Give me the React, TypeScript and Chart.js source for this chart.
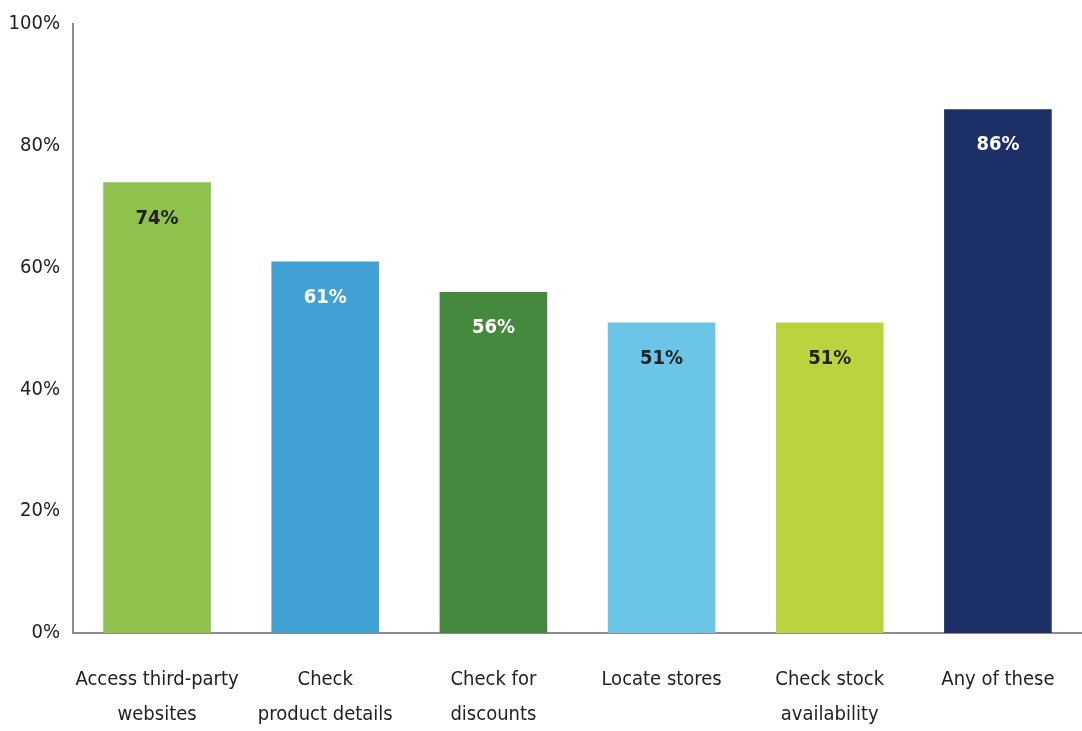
import React, { useEffect, useRef } from "react";
import { Chart, registerables } from "chart.js";

Chart.register(...registerables);

const categories: string[][] = [
  ["Access third-party", "websites"],
  ["Check", "product details"],
  ["Check for", "discounts"],
  ["Locate stores"],
  ["Check stock", "availability"],
  ["Any of these"],
];
const values: number[] = [74, 61, 56, 51, 51, 86];
const barColors: string[] = ["#8fc14c", "#42a1d4", "#45893e", "#6bc5e7", "#bad33f", "#1c2f66"];
const labelColors: string[] = ["#222222", "#ffffff", "#ffffff", "#222222", "#222222", "#ffffff"];
const yTicks: number[] = [0, 20, 40, 60, 80, 100];

const FONT = "'Liberation Sans Narrow', 'DejaVu Sans Condensed', sans-serif";

const valueLabels = {
  id: "valueLabels",
  afterDatasetsDraw(chart: any) {
    const ctx = chart.ctx;
    const meta = chart.getDatasetMeta(0);
    ctx.save();
    ctx.font = `bold 20px ${FONT}`;
    ctx.textAlign = "center";
    ctx.textBaseline = "middle";
    meta.data.forEach((bar: any, i: number) => {
      ctx.fillStyle = labelColors[i];
      ctx.fillText(values[i] + "%", bar.x, bar.y + 36);
    });
    ctx.restore();
  },
};

export default function App() {
  const ref = useRef<HTMLCanvasElement>(null);
  useEffect(() => {
    document.body.style.margin = "0";
    const chart = new Chart(ref.current!, {
      type: "bar",
      data: {
        labels: categories,
        datasets: [
          {
            data: values,
            backgroundColor: barColors,
            barPercentage: 0.64,
            categoryPercentage: 1,
          },
        ],
      },
      options: {
        animation: false,
        responsive: false,
        maintainAspectRatio: false,
        layout: { padding: { top: 24, right: 0, left: 0, bottom: 0 } },
        plugins: { legend: { display: false }, tooltip: { enabled: false } },
        scales: {
          x: {
            grid: { display: false },
            border: { display: true, color: "#8c8c8c", width: 2 },
            ticks: {
              color: "#222222",
              font: { family: FONT, size: 20, lineHeight: 1.75 },
              padding: 21,
              maxRotation: 0,
              autoSkip: false,
            },
            afterFit(scale: any) {
              scale.height = 98;
            },
          },
          y: {
            min: 0,
            max: 100,
            afterBuildTicks(scale: any) {
              scale.ticks = yTicks.map((v) => ({ value: v }));
            },
            grid: { display: false },
            border: { display: true, color: "#8c8c8c", width: 2 },
            ticks: {
              color: "#222222",
              font: { family: FONT, size: 20 },
              padding: 5,
              callback: (v: any) => v + "%",
            },
            afterFit(scale: any) {
              scale.width = 73;
            },
          },
        },
      },
      plugins: [valueLabels],
    });
    return () => chart.destroy();
  }, []);
  return <canvas ref={ref} width={1082} height={731} style={{ display: "block" }} />;
}
